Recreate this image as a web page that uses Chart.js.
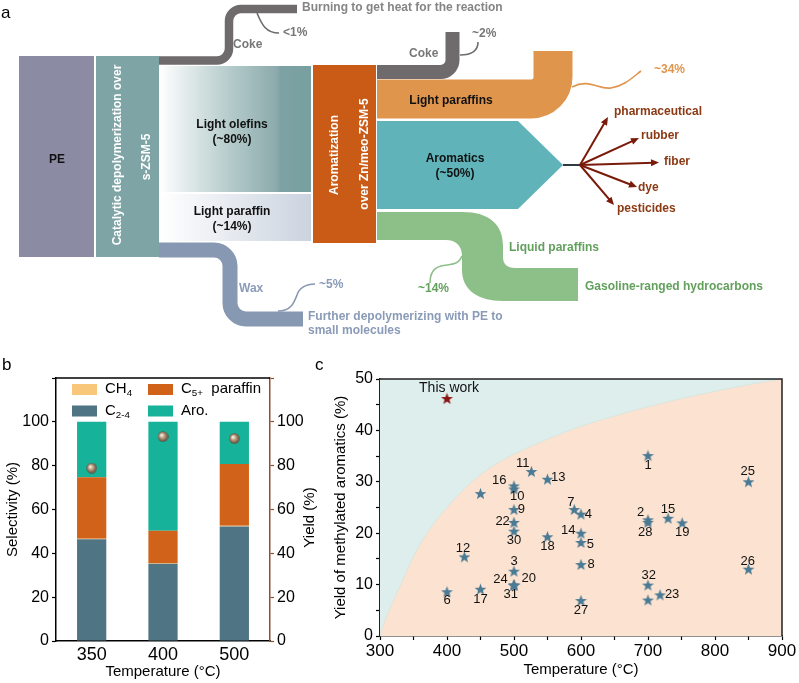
<!DOCTYPE html>
<html>
<head>
<meta charset="utf-8">
<script src="https://cdn.jsdelivr.net/npm/chart.js@4.4.0/dist/chart.umd.min.js"></script>
<style>
  body { margin: 0; background: #fff; }
  #wrap { position: relative; width: 799px; height: 683px; overflow: hidden; font-family: "Liberation Sans", Arial, sans-serif; }
  canvas { position: absolute; }
  .tag { position: absolute; font-size: 17px; line-height: 17px; color: #000; }
</style>
</head>
<body>
<div id="wrap">
  <canvas id="flow" width="799" height="340" style="left:0px;top:0px;width:799px;height:340px"></canvas>
  <canvas id="sel" width="320" height="343" style="left:0px;top:340px;width:320px;height:343px"></canvas>
  <canvas id="yld" width="479" height="343" style="left:320px;top:340px;width:479px;height:343px"></canvas>
  <div class="tag" style="left:1px;top:4px">a</div>
  <div class="tag" style="left:2px;top:356px">b</div>
  <div class="tag" style="left:315px;top:356px">c</div>
</div>
<script>
// ---- panel a: process flow ----
const feedName = 'PE'
const stage1Lines = ['Catalytic depolymerization over', 's-ZSM-5']
const stage2Lines = ['Aromatization', 'over Zn/meo-ZSM-5']
const depolyProducts = ['Light olefins', 'Light paraffin']
const depolyShare = [80, 14]
const cokeShare = ['<1%', '~2%']
const waxShare = '~5%'
const aromProducts = ['Light paraffins', 'Aromatics', 'Liquid paraffins']
const aromShare = [34, 50, 14]
const uses = ['pharmaceutical', 'rubber', 'fiber', 'dye', 'pesticides']

// ---- panel b: selectivity ----
const temps = ['350', '400', '500']
const selC24 = [46.4, 35.2, 52.3]
const selCH4 = [0.3, 0.3, 0.3]
const selC5 = [28.0, 14.8, 28.2]
const selAro = [25.3, 49.7, 19.2]
const yieldAro = [78.9, 93.3, 92.4]

// ---- panel c: literature comparison ----
const refTemp  = [700, 700, 500, 600, 600, 400, 590, 600, 500, 500, 526, 426, 550, 600, 730, 500, 450, 550, 751, 500, 500, 718, 500, 850, 850, 600, 700, 500, 500, 700, 450, 700]
const refYield = [35.1, 22.6, 12.6, 23.7, 18.2, 8.6, 24.6, 13.9, 24.6, 28.6, 32.0, 15.4, 30.5, 20.0, 22.9, 29.2, 9.1, 19.3, 22.0, 9.9, 22.1, 8.0, 9.9, 30.0, 13.0, 6.9, 22.1, 20.4, 9.9, 9.9, 27.7, 7.0]
const refLabel = ['1', '2', '3', '4', '5', '6', '7', '8', '9', '10', '11', '12', '13', '14', '15', '16', '17', '18', '19', '20', '22', '23', '24', '25', '26', '27', '28', '30', '31', '32', '', '']
const labelT = [700, 689, 500, 611, 614, 400, 585, 615, 511, 505, 513, 424, 566, 581, 730, 478, 450, 550, 751, 522, 483, 736, 480, 849, 849, 600, 696, 500, 495, 701, 0, 0]
const labelY = [33.2, 24.1, 14.5, 23.7, 17.8, 6.9, 26.0, 13.9, 24.6, 27.1, 33.6, 17.1, 30.8, 20.5, 24.6, 30.2, 7.2, 17.4, 20.2, 11.2, 22.3, 8.1, 11.1, 32.0, 14.6, 4.9, 20.1, 18.5, 8.0, 11.7, 0, 0]
const thisWork = { t: 400, y: 46.2, label: 'This work', lt: 403, ly: 48.2 }
const boundT = [300, 302, 315, 331, 349, 370, 400, 437, 470, 502, 550, 600, 650, 700, 750, 800, 850, 900]
const boundY = [0, 1, 5.4, 10, 15.2, 20, 25, 30, 33.2, 35.5, 38.3, 40.8, 42.8, 44.6, 46.2, 47.6, 48.9, 50]

const FONT = '"Liberation Sans", Arial, sans-serif'
Chart.defaults.font.family = FONT
Chart.defaults.color = '#000'
Chart.defaults.animation = false

// text helper
const label = (ctx, txt, x, y, color, size, align, bold) => {
  ctx.font = (bold === false ? '' : 'bold ') + (size || 12) + 'px ' + FONT
  ctx.fillStyle = color
  ctx.textAlign = align || 'center'
  ctx.textBaseline = 'middle'
  ctx.fillText(txt, x, y)
}

// band helper: thick stroke along a polyline with rounded corners
const band = (ctx, pts, width, r, color) => {
  ctx.beginPath()
  ctx.moveTo(pts[0][0], pts[0][1])
  for (let i = 1; i < pts.length - 1; i++) {
    ctx.arcTo(pts[i][0], pts[i][1], pts[i + 1][0], pts[i + 1][1], r)
  }
  const last = pts[pts.length - 1]
  ctx.lineTo(last[0], last[1])
  ctx.lineWidth = width
  ctx.lineCap = 'butt'
  ctx.strokeStyle = color
  ctx.stroke()
}

const flowPlugin = {
  id: 'flowDiagram',
  afterDraw(chart) {
    const { ctx, scales: { x, y } } = chart
    const X = v => x.getPixelForValue(v)
    const Y = v => y.getPixelForValue(v)
    const P = (a, b) => [X(a), Y(b)]
    ctx.save()

    // nodes
    ctx.fillStyle = '#8b8ca3'
    ctx.fillRect(X(19), Y(56), X(94) - X(19), Y(257) - Y(56))
    label(ctx, feedName, X(57), Y(160), '#111')
    ctx.fillStyle = '#7fa4a6'
    ctx.fillRect(X(96), Y(56), X(159) - X(96), Y(257) - Y(56))
    ctx.fillStyle = '#c95b17'
    ctx.fillRect(X(313), Y(65), X(376) - X(313), Y(243) - Y(65))

    const vtext = (lines, xs, cy) => {
      lines.forEach((t, i) => {
        ctx.save()
        ctx.translate(X(xs[i]), Y(cy[i]))
        ctx.rotate(-Math.PI / 2)
        label(ctx, t, 0, 0, '#fff')
        ctx.restore()
      })
    }
    vtext(stage1Lines, [118, 147], [155, 157])
    vtext(stage2Lines, [335, 365], [155, 154])

    // coke + wax off stage 1
    band(ctx, [P(159, 60.5), P(229, 60.5), P(229, 9), P(297, 9)], 8.5, 12, '#6f6b6d')
    band(ctx, [P(159, 250), P(230, 250), P(230, 319), P(303, 319)], 15, 16, '#8798b3')

    // depolymerization products
    let g = ctx.createLinearGradient(X(160), 0, X(311), 0)
    g.addColorStop(0, '#ffffff')
    g.addColorStop(0.1, '#eef3f3')
    g.addColorStop(0.45, '#b7cccc')
    g.addColorStop(0.77, '#8cabac')
    g.addColorStop(0.8, '#7da2a3')
    g.addColorStop(1, '#78a0a0')
    ctx.fillStyle = g
    ctx.fillRect(X(160), Y(66), X(311) - X(160), Y(192) - Y(66))
    g = ctx.createLinearGradient(X(160), 0, X(311), 0)
    g.addColorStop(0, '#ffffff')
    g.addColorStop(1, '#cbd3df')
    ctx.fillStyle = g
    ctx.fillRect(X(160), Y(194), X(311) - X(160), Y(241) - Y(194))
    label(ctx, depolyProducts[0], X(232), Y(125), '#111')
    label(ctx, '(~' + depolyShare[0] + '%)', X(232), Y(140), '#111')
    label(ctx, depolyProducts[1], X(232), Y(212), '#111')
    label(ctx, '(~' + depolyShare[1] + '%)', X(232), Y(227), '#111')

    // aromatization products
    band(ctx, [P(377, 72), P(452.5, 72), P(452.5, 32)], 14, 12, '#6f6b6d')
    band(ctx, [P(377, 99), P(553, 99), P(553, 51)], 39, 22, '#e0954d')

    ctx.beginPath()
    ctx.moveTo(X(377), Y(121))
    ctx.lineTo(X(518), Y(121))
    ctx.lineTo(X(563), Y(165))
    ctx.lineTo(X(518), Y(209))
    ctx.lineTo(X(377), Y(209))
    ctx.closePath()
    ctx.fillStyle = '#60b4b9'
    ctx.fill()

    ctx.beginPath()
    ctx.moveTo(X(377), Y(212))
    ctx.lineTo(X(462), Y(212))
    ctx.bezierCurveTo(X(490), Y(212), X(503), Y(225), X(503), Y(246))
    ctx.lineTo(X(503), Y(257))
    ctx.bezierCurveTo(X(503), Y(264), X(507), Y(268), X(515), Y(268))
    ctx.lineTo(X(578), Y(268))
    ctx.lineTo(X(578), Y(301))
    ctx.lineTo(X(503), Y(301))
    ctx.bezierCurveTo(X(478), Y(301), X(462), Y(290), X(462), Y(270))
    ctx.lineTo(X(462), Y(256))
    ctx.bezierCurveTo(X(462), Y(246), X(456), Y(240), X(446), Y(240))
    ctx.lineTo(X(377), Y(240))
    ctx.closePath()
    ctx.fillStyle = '#8dbf88'
    ctx.fill()

    label(ctx, aromProducts[0], X(451), Y(101), '#111')
    label(ctx, aromProducts[1], X(455), Y(159), '#111')
    label(ctx, '(~' + aromShare[1] + '%)', X(455), Y(174), '#111')

    // leader wiggles
    const wiggle = (segs, color) => {
      ctx.beginPath()
      ctx.moveTo(X(segs[0][0]), Y(segs[0][1]))
      for (let i = 1; i < segs.length; i++) {
        const s = segs[i]
        ctx.bezierCurveTo(X(s[0]), Y(s[1]), X(s[2]), Y(s[3]), X(s[4]), Y(s[5]))
      }
      ctx.lineWidth = 1.6
      ctx.strokeStyle = color
      ctx.stroke()
    }
    wiggle([[257, 13], [262, 25, 266, 33, 279, 33]], '#6f6b6d')
    wiggle([[460, 55], [470, 55, 478, 52, 478, 42]], '#6f6b6d')
    wiggle([[572, 87], [590, 78, 598, 90, 611, 88], [624, 86, 632, 78, 641, 71]], '#e0954d')
    wiggle([[278, 311], [291, 311, 294, 303, 297, 295], [299, 288, 306, 284, 315, 284]], '#8798b3')
    wiggle([[462, 256], [458, 266, 450, 264, 441, 266], [433, 268, 430, 275, 430, 283]], '#8dbf88')

    // flow labels
    label(ctx, 'Burning to get heat for the reaction', X(302), Y(8), '#858585', 12, 'left')
    label(ctx, cokeShare[0], X(283), Y(33), '#777', 12, 'left')
    label(ctx, 'Coke', X(233), Y(45), '#777', 12, 'left')
    label(ctx, 'Coke', X(409), Y(54), '#777', 12, 'left')
    label(ctx, cokeShare[1], X(472), Y(34), '#777', 12, 'left')
    label(ctx, 'Wax', X(239), Y(289), '#8a9bb8', 12, 'left')
    label(ctx, waxShare, X(319), Y(285), '#8a9bb8', 12, 'left')
    label(ctx, 'Further depolymerizing with PE to', X(308), Y(317), '#8a9bb8', 12, 'left')
    label(ctx, 'small molecules', X(308), Y(331), '#8a9bb8', 12, 'left')
    label(ctx, '~' + aromShare[0] + '%', X(654), Y(70), '#e0954d', 12, 'left')
    label(ctx, aromProducts[2], X(509), Y(248), '#62a05c', 12, 'left')
    label(ctx, 'Gasoline-ranged hydrocarbons', X(585), Y(287), '#62a05c', 12, 'left')
    label(ctx, '~' + aromShare[2] + '%', X(418), Y(289), '#62a05c', 12, 'left')

    // aromatics applications
    ctx.beginPath()
    ctx.moveTo(X(563), Y(165))
    ctx.lineTo(X(580), Y(165))
    ctx.lineWidth = 2
    ctx.strokeStyle = '#2f3b3d'
    ctx.stroke()
    const tips = [[608, 117], [639, 138], [659, 162.5], [637, 187], [614, 205]]
    const spots = [[614, 112], [641, 136], [664, 162], [638, 188], [617, 209]]
    tips.forEach((tp, i) => {
      const x0 = X(580), y0 = Y(165), x1 = X(tp[0]), y1 = Y(tp[1])
      const a = Math.atan2(y1 - y0, x1 - x0)
      ctx.beginPath()
      ctx.moveTo(x0, y0)
      ctx.lineTo(x1 - 5 * Math.cos(a), y1 - 5 * Math.sin(a))
      ctx.lineWidth = 2
      ctx.strokeStyle = '#7a1a0a'
      ctx.stroke()
      ctx.beginPath()
      ctx.moveTo(x1, y1)
      ctx.lineTo(x1 - 8 * Math.cos(a) + 3.5 * Math.sin(a), y1 - 8 * Math.sin(a) - 3.5 * Math.cos(a))
      ctx.lineTo(x1 - 8 * Math.cos(a) - 3.5 * Math.sin(a), y1 - 8 * Math.sin(a) + 3.5 * Math.cos(a))
      ctx.closePath()
      ctx.fillStyle = '#7a1a0a'
      ctx.fill()
      label(ctx, uses[i], X(spots[i][0]), Y(spots[i][1]), '#8b3a14', 12, 'left')
    })
    ctx.restore()
  }
}

new Chart(document.getElementById('flow'), {
  type: 'scatter',
  data: { datasets: [] },
  options: {
    responsive: false,
    layout: { padding: 0 },
    plugins: { legend: { display: false }, tooltip: { enabled: false } },
    scales: {
      x: { type: 'linear', min: 0, max: 799, display: false },
      y: { type: 'linear', min: 0, max: 340, reverse: true, display: false }
    }
  },
  plugins: [flowPlugin]
})

// ---- marker images ----
const sphere = (() => {
  const c = document.createElement('canvas')
  c.width = 11; c.height = 11
  const cx = c.getContext('2d')
  const gr = cx.createRadialGradient(4, 4, 0.5, 5.5, 5.5, 5.5)
  gr.addColorStop(0, '#f7efe4')
  gr.addColorStop(0.45, '#b39579')
  gr.addColorStop(1, '#5b4534')
  cx.fillStyle = gr
  cx.beginPath()
  cx.arc(5.5, 5.5, 5.2, 0, Math.PI * 2)
  cx.fill()
  return c
})()

const starImg = (color) => {
  const c = document.createElement('canvas')
  c.width = 13; c.height = 13
  const cx = c.getContext('2d')
  cx.beginPath()
  for (let i = 0; i < 10; i++) {
    const r = i % 2 === 0 ? 6.2 : 2.6
    const a = -Math.PI / 2 + i * Math.PI / 5
    cx.lineTo(6.5 + r * Math.cos(a), 7 + r * Math.sin(a))
  }
  cx.closePath()
  cx.fillStyle = color
  cx.fill()
  return c
}

// rich text with _{sub}
const subText = (ctx, txt, x, y, size) => {
  const parts = txt.split(/_\{([^}]*)\}/)
  ctx.textAlign = 'left'
  ctx.textBaseline = 'middle'
  ctx.fillStyle = '#000'
  parts.forEach((p, i) => {
    const isSub = i % 2 === 1
    ctx.font = (isSub ? size * 0.65 : size) + 'px ' + FONT
    ctx.fillText(p, x, isSub ? y + size * 0.3 : y)
    x += ctx.measureText(p).width
  })
}

// ---- panel b ----
const selPlugin = {
  id: 'selExtras',
  afterDraw(chart) {
    const { ctx, chartArea: a } = chart
    ctx.save()
    ctx.beginPath()
    ctx.moveTo(a.left, a.top)
    ctx.lineTo(a.right, a.top)
    ctx.lineWidth = 1.5
    ctx.strokeStyle = '#000'
    ctx.stroke()
    const ds = chart.data.datasets
    const order = [1, 2, 0, 3]
    order.forEach((k, i) => {
      const col = i % 2, row = Math.floor(i / 2)
      const sx = a.left + 16 + col * 76, sy = a.top + 6 + row * 21.5
      ctx.fillStyle = ds[k].backgroundColor
      ctx.fillRect(sx, sy, 25, 11)
      subText(ctx, ds[k].label, sx + 33, sy + 5, 15)
    })
    // right axis title reads bottom-to-top like the left one
    ctx.save()
    ctx.translate(310, (a.top + a.bottom) / 2 + 8)
    ctx.rotate(-Math.PI / 2)
    label(ctx, 'Yield (%)', 0, 0, '#000', 15, 'center', false)
    ctx.restore()
    ctx.restore()
  }
}

new Chart(document.getElementById('sel'), {
  type: 'bar',
  data: {
    labels: temps,
    datasets: [
      { label: 'C_{2-4}', data: selC24, backgroundColor: '#4f7484', yAxisID: 'y', order: 1 },
      { label: 'CH_{4}', data: selCH4, backgroundColor: '#f8c77a', yAxisID: 'y', order: 1 },
      { label: 'C_{5+}  paraffin', data: selC5, backgroundColor: '#d1621a', yAxisID: 'y', order: 1 },
      { label: 'Aro.', data: selAro, backgroundColor: '#16b29a', yAxisID: 'y', order: 1 },
      {
        type: 'line', label: 'Yield', data: yieldAro, yAxisID: 'y1', showLine: false,
        pointStyle: sphere, pointRadius: 5.5, order: 0
      }
    ]
  },
  options: {
    responsive: false,
    layout: { padding: { top: 38, left: 0, right: 0, bottom: 0 } },
    plugins: { legend: { display: false }, tooltip: { enabled: false } },
    datasets: { bar: { categoryPercentage: 1, barPercentage: 0.41 } },
    scales: {
      x: {
        stacked: true,
        grid: { display: false, tickLength: 1 },
        border: { color: '#000', width: 1.5 },
        ticks: { font: { size: 18 }, padding: 2 },
        title: { display: true, text: 'Temperature (°C)', font: { size: 15 }, padding: { top: 0, bottom: 2 } },
        afterFit: s => { s.height = 42 }
      },
      y: {
        stacked: true, position: 'left', min: 0, max: 120,
        ticks: { stepSize: 20, font: { size: 16 }, callback: v => (v <= 100 ? v : '') },
        grid: { drawOnChartArea: false, tickLength: 4, tickColor: '#000', tickWidth: 1.2 },
        border: { color: '#000', width: 1.5 },
        title: { display: true, text: 'Selectivity (%)', font: { size: 15 }, padding: { top: 4, bottom: 0 } },
        afterFit: s => { s.width = 56 }
      },
      y1: {
        position: 'right', min: 0, max: 120,
        ticks: { stepSize: 20, font: { size: 16 }, callback: v => (v <= 100 ? v : '') },
        grid: { drawOnChartArea: false, tickLength: 4, tickColor: '#8b5030', tickWidth: 1.2 },
        border: { color: '#8b5030', width: 1.5 },
        afterFit: s => { s.width = 50 }
      }
    }
  },
  plugins: [selPlugin]
})

// ---- panel c ----
const yldPlugin = {
  id: 'yldExtras',
  beforeDatasetsDraw(chart) {
    const { ctx, chartArea: a } = chart
    ctx.save()
    ctx.fillStyle = '#ddeeec'
    ctx.fillRect(a.left, a.top, a.right - a.left, a.bottom - a.top)
    ctx.restore()
  },
  afterDraw(chart) {
    const { ctx, chartArea: a, scales: { x, y } } = chart
    ctx.save()
    ctx.beginPath()
    ctx.moveTo(a.left, a.top)
    ctx.lineTo(a.right, a.top)
    ctx.lineTo(a.right, a.bottom)
    ctx.lineWidth = 1.5
    ctx.strokeStyle = '#222'
    ctx.stroke()
    refLabel.forEach((t, i) => {
      if (!t) return
      label(ctx, t, x.getPixelForValue(labelT[i]), y.getPixelForValue(labelY[i]), '#111', 13, 'center', false)
    })
    label(ctx, thisWork.label, x.getPixelForValue(thisWork.lt), y.getPixelForValue(thisWork.ly), '#111', 14, 'center', false)
    ctx.restore()
  }
}

new Chart(document.getElementById('yld'), {
  type: 'scatter',
  data: {
    datasets: [
      {
        type: 'line', data: boundT.map((t, i) => ({ x: t, y: boundY[i] })),
        fill: 'origin', backgroundColor: '#fce3d1', borderColor: '#d5e4da', borderWidth: 0.8,
        pointRadius: 0, cubicInterpolationMode: 'monotone', order: 2
      },
      {
        data: refTemp.map((t, i) => ({ x: t, y: refYield[i] })),
        pointStyle: starImg('#4b7a94'), pointRadius: 6, order: 1
      },
      {
        data: [{ x: thisWork.t, y: thisWork.y }],
        pointStyle: starImg('#8a1414'), pointRadius: 6, order: 0
      }
    ]
  },
  options: {
    responsive: false,
    layout: { padding: { top: 39, left: 0, right: 17, bottom: 0 } },
    plugins: { legend: { display: false }, tooltip: { enabled: false } },
    scales: {
      x: {
        type: 'linear', min: 300, max: 900,
        ticks: { stepSize: 50, autoSkip: false, maxRotation: 0, font: { size: 17 }, padding: 1, callback: v => (v % 100 === 0 ? v : '') },
        grid: { drawOnChartArea: false, tickLength: 4, tickColor: '#000', tickWidth: 1.2 },
        border: { color: '#222', width: 1.5 },
        title: { display: true, text: 'Temperature (°C)', font: { size: 15 }, padding: { top: 0, bottom: 4 } },
        afterFit: s => { s.height = 47 }
      },
      y: {
        min: 0, max: 50,
        ticks: { stepSize: 5, autoSkip: false, font: { size: 16 }, callback: v => (v % 10 === 0 ? v : '') },
        grid: { drawOnChartArea: false, tickLength: 4, tickColor: '#000', tickWidth: 1.2 },
        border: { color: '#222', width: 1.5 },
        title: { display: true, text: 'Yield of methylated aromatics (%)', font: { size: 15 }, padding: { top: 12, bottom: 0 } },
        afterFit: s => { s.width = 60 }
      }
    }
  },
  plugins: [yldPlugin]
})
</script>
</body>
</html>
